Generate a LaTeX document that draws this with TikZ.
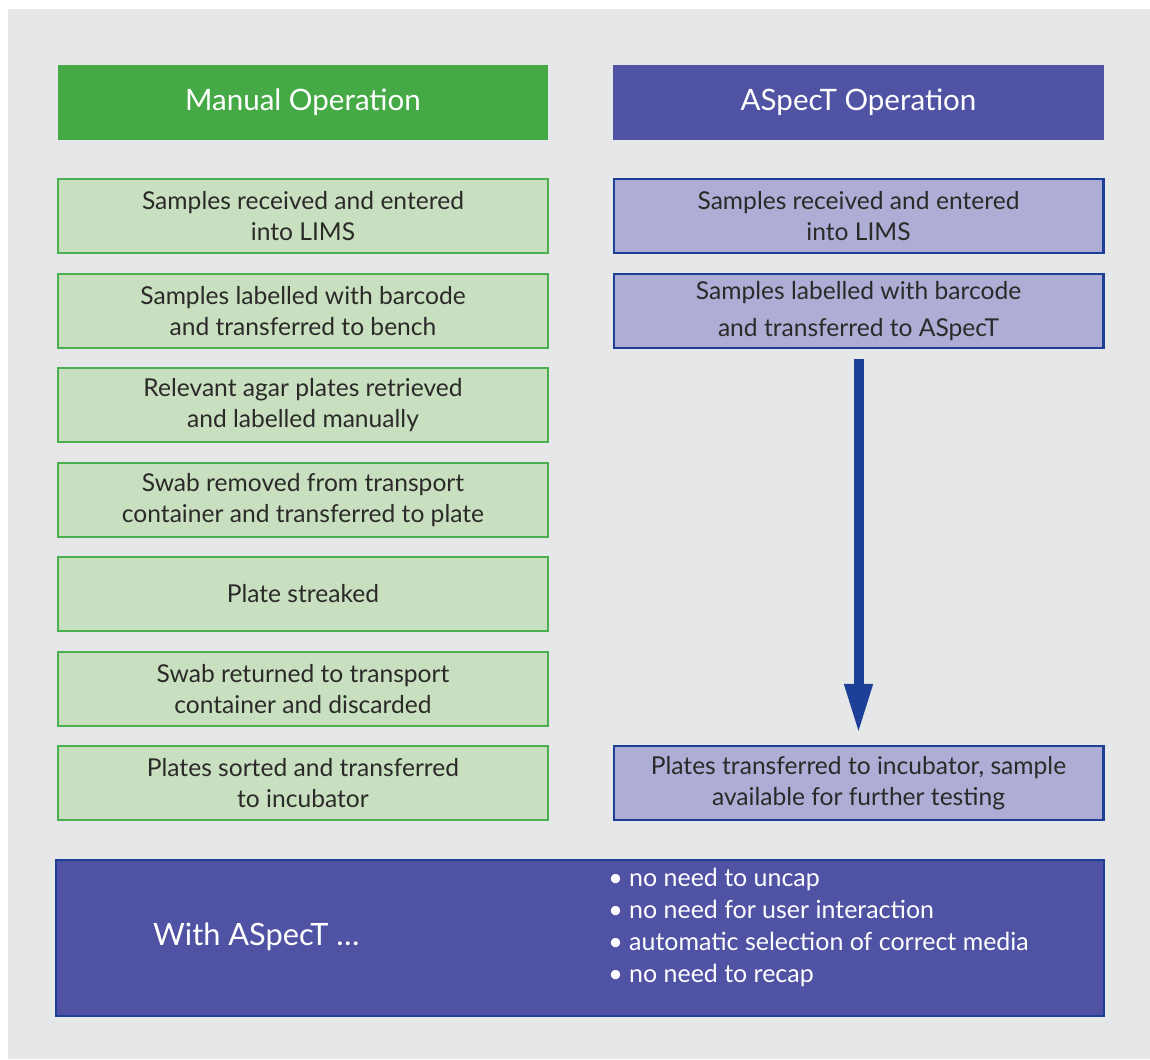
\documentclass[tikz,border=0pt]{standalone}
\usepackage{fontspec}
\setmainfont{Lato}
\usepackage{xcolor}
\usetikzlibrary{arrows.meta, positioning}

\definecolor{bggray}{HTML}{E6E7E9}
\definecolor{mgreen}{HTML}{45AA46}
\definecolor{mgreenlight}{HTML}{C8DFC0}
\definecolor{mgreenline}{HTML}{4BAE4F}
\definecolor{apurple}{HTML}{5053A4}
\definecolor{apurplelight}{HTML}{AEADD5}
\definecolor{aline}{HTML}{1E3F96}
\definecolor{txtdark}{HTML}{2B2A29}

\tikzset{
    head/.style={minimum width=9.82cm, minimum height=1.5cm, text=white,
        font=\fontsize{16.8}{20}\selectfont, inner sep=0pt},
    mhead/.style={head, fill=mgreen},
    ahead/.style={head, fill=apurple},
    stepbox/.style={minimum width=9.8cm, minimum height=1.48cm, line width=1.2pt,
        align=center, text=txtdark, font=\fontsize{14}{17.6}\selectfont, inner sep=0pt},
    mbox/.style={stepbox, draw=mgreenline, fill=mgreenlight},
    abox/.style={stepbox, draw=aline, fill=apurplelight},
    summary/.style={draw=aline, line width=1.2pt, fill=apurple,
        minimum width=20.96cm, minimum height=3.12cm, inner sep=0pt},
}

\begin{document}
\begin{tikzpicture}[x=0.02cm, y=-0.02cm]
    \useasboundingbox (0, 0) rectangle (1150, 1059);
    \fill[bggray] (8, 9) rectangle (1150, 1059);

    % headers
    \node[mhead] (mhd) at (303, 102.5) {Manual Operation};
    \node[ahead] (ahd) at (858.5, 102.5) {ASpecT Operation};

    % manual steps
    \node[mbox] (m1) at (303, 216) {Samples received and entered\\into LIMS};
    \node[mbox] (m2) at (303, 311) {Samples labelled with barcode\\and transferred to bench};
    \node[mbox] (m3) at (303, 405) {Relevant agar plates retrieved\\and labelled manually};
    \node[mbox] (m4) at (303, 500) {Swab removed from transport\\container and transferred to plate};
    \node[mbox] (m5) at (303, 594) {Plate streaked};
    \node[mbox] (m6) at (303, 689) {Swab returned to transport\\container and discarded};
    \node[mbox] (m7) at (303, 783) {Plates sorted and transferred\\to incubator};

    % ASpecT steps
    \node[abox] (a1) at (858.5, 216) {Samples received and entered\\into LIMS};
    \node[abox, font=\fontsize{14}{21}\selectfont] (a2) at (858.5, 311) {Samples labelled with barcode\\and transferred to ASpecT};
    \node[abox] (a3) at (858.5, 783) {Plates transferred to incubator, sample\\available for further testing};

    \draw[aline, line width=0.2cm, -{Triangle[width=0.52cm, length=1cm]},
        shorten <=10*0.02cm, shorten >=11*0.02cm] (a2) -- (a3);

    % summary
    \node[summary] (sum) at (580, 938) {};
    \node[text=white, font=\fontsize{17.5}{20}\selectfont, anchor=west] (with) at (147, 937) {With ASpecT \dots};
    \node[text=white, font=\fontsize{14.2}{18.2}\selectfont, align=left, anchor=west, inner sep=0pt] (gains) at (608, 927)
        {\textbullet\ no need to uncap\\
         \textbullet\ no need for user interaction\\
         \textbullet\ automatic selection of correct media\\
         \textbullet\ no need to recap};
\end{tikzpicture}
\end{document}
